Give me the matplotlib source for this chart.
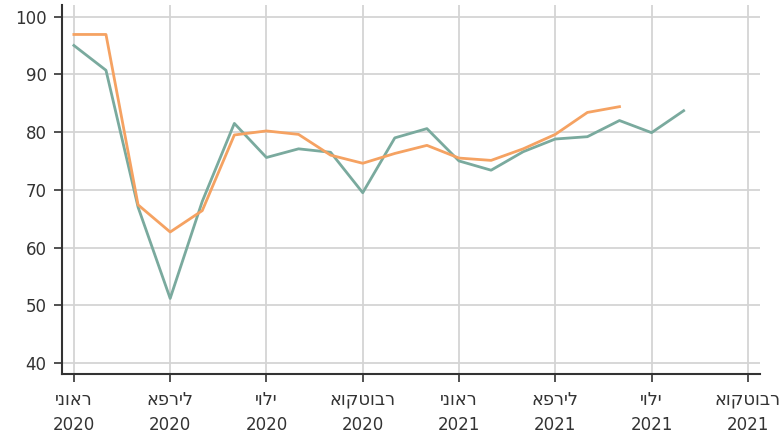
import numpy as np
import matplotlib.pyplot as plt

# monthly index, Jan 2020 = 0
months_teal = np.arange(20)
teal = [95.0, 90.7, 67.0, 51.2, 68.0, 81.5, 75.6, 77.1, 76.5, 69.5,
        79.0, 80.6, 75.0, 73.4, 76.6, 78.8, 79.2, 82.0, 79.9, 83.7]
months_orange = np.arange(18)
orange = [96.9, 96.9, 67.4, 62.7, 66.4, 79.5, 80.2, 79.6, 76.0, 74.6,
          76.3, 77.7, 75.5, 75.1, 77.1, 79.6, 83.4, 84.4]

tick_months = [0, 3, 6, 9, 12, 15, 18, 21]
tick_names = ['ינואר', 'אפריל', 'יולי', 'אוקטובר'] * 2
tick_years = ['2020'] * 4 + ['2021'] * 4
yticks = [40, 50, 60, 70, 80, 90, 100]

plt.rcParams['font.family'] = ['DejaVu Sans']

fig = plt.figure(figsize=(7.8, 4.36), dpi=100)
ax = fig.add_axes([0.0795, 0.142, 0.8945, 0.8465])

ax.plot(months_teal, teal, color='#7aaa9e', lw=2)
ax.plot(months_orange, orange, color='#f5a262', lw=2)

ax.set_xlim(-0.37, 21.37)
ax.set_ylim(38.1, 102.0)
ax.set_yticks(yticks)

# month names as major labels, years as minor labels at the same spots
ax.xaxis.remove_overlapping_locs = False
ax.set_xticks(tick_months)
ax.set_xticklabels(tick_names)
ax.set_xticks(tick_months, minor=True)
ax.set_xticklabels(tick_years, minor=True)

ax.grid(True, color='#d4d4d4', lw=1.3)
ax.set_axisbelow(True)
for s in ['top', 'right']:
    ax.spines[s].set_visible(False)
for s in ['left', 'bottom']:
    ax.spines[s].set_color('#333333')
    ax.spines[s].set_linewidth(1.5)
ax.tick_params(axis='y', colors='#333333', labelsize=12, length=6, width=1.2, pad=5)
ax.tick_params(axis='x', which='major', colors='#333333', labelsize=12.8,
               length=6, width=1.2, pad=6)
ax.tick_params(axis='x', which='minor', colors='#333333', labelsize=12,
               length=0, pad=30)

fig.savefig('out.png', dpi=100)
